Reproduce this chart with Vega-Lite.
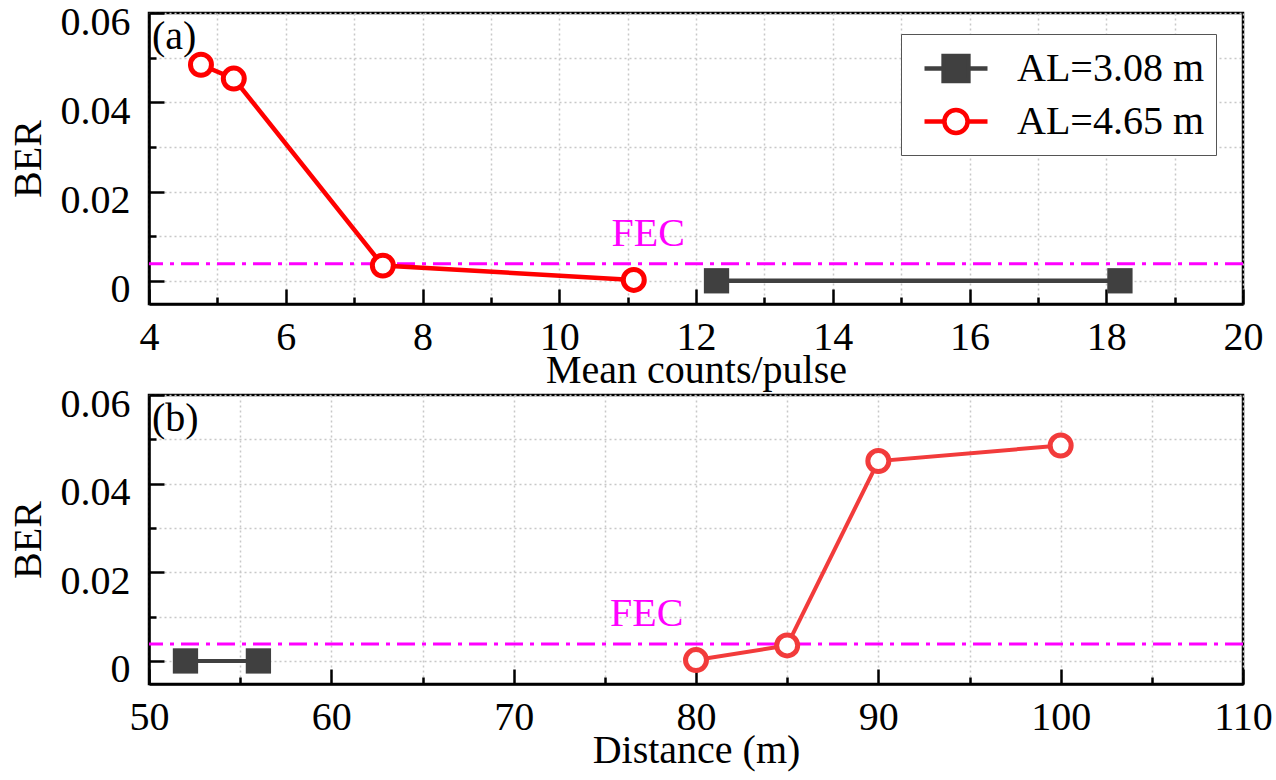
{
  "$schema": "https://vega.github.io/schema/vega-lite/v6.json",
  "background": "white",
  "padding": {"left": 6, "top": 0, "right": 0, "bottom": 0},
  "bounds": "flush",
  "spacing": 91,
  "datasets": {
    "counts": [
      {"counts": 12.3, "ber": 0.0, "series": "AL=3.08 m"},
      {"counts": 18.2, "ber": 0.0, "series": "AL=3.08 m"},
      {"counts": 4.76, "ber": 0.0484, "series": "AL=4.65 m"},
      {"counts": 5.24, "ber": 0.0453, "series": "AL=4.65 m"},
      {"counts": 7.42, "ber": 0.0034, "series": "AL=4.65 m"},
      {"counts": 11.09, "ber": 0.0002, "series": "AL=4.65 m"}
    ],
    "distance": [
      {"distance": 52, "ber": 0.0, "series": "AL=3.08 m"},
      {"distance": 56, "ber": 0.0, "series": "AL=3.08 m"},
      {"distance": 80, "ber": 0.0002, "series": "AL=4.65 m"},
      {"distance": 85, "ber": 0.0035, "series": "AL=4.65 m"},
      {"distance": 90, "ber": 0.0451, "series": "AL=4.65 m"},
      {"distance": 100, "ber": 0.0486, "series": "AL=4.65 m"}
    ],
    "fecA": [{"ber": 0.0038, "x": 11.3, "label": "FEC"}],
    "fecB": [{"ber": 0.0038, "x": 77.3, "label": "FEC"}],
    "tagA": [{"x": 4, "ber": 0.06, "label": "(a)"}],
    "tagB": [{"x": 50, "ber": 0.06, "label": "(b)"}]
  },
  "vconcat": [
    {
      "width": 1094,
      "height": 291,
      "layer": [
        {
          "data": {"name": "fecA"},
          "mark": {"type": "rule", "color": "#ff00ff", "strokeWidth": 3, "strokeDash": [18, 7, 4, 7]},
          "encoding": {"y": {"field": "ber", "type": "quantitative"}}
        },
        {
          "data": {"name": "fecA"},
          "mark": {"type": "text", "color": "#ff00ff", "fontSize": 40, "baseline": "bottom", "dy": -10},
          "encoding": {
            "x": {"field": "x", "type": "quantitative"},
            "y": {"field": "ber", "type": "quantitative"},
            "text": {"field": "label"}
          }
        },
        {
          "data": {"name": "counts"},
          "mark": {"type": "line", "strokeWidth": 4.5},
          "encoding": {
            "x": {
              "field": "counts", "type": "quantitative",
              "scale": {"domain": [4, 20], "nice": false, "zero": false},
              "axis": {
                "title": "Mean counts/pulse",
                "values": [4, 5, 6, 7, 8, 9, 10, 11, 12, 13, 14, 15, 16, 17, 18, 19, 20],
                "labelExpr": "datum.value % 2 == 0 ? format(datum.value, 'd') : ''",
                "tickSize": {"condition": {"test": "datum.value % 2 == 0", "value": -15}, "value": -7}
              }
            },
            "y": {
              "field": "ber", "type": "quantitative",
              "scale": {"domain": [-0.0052, 0.06], "nice": false, "zero": false},
              "axis": {
                "title": "BER",
                "values": [0, 0.01, 0.02, 0.03, 0.04, 0.05, 0.06],
                "labelExpr": "datum.value == 0 ? '0' : (round(datum.value * 1000) % 20 == 0 ? format(datum.value, '.2f') : '')",
                "tickSize": {"condition": {"test": "round(datum.value * 1000) % 20 == 0", "value": -15}, "value": -7}
              }
            },
            "color": {
              "field": "series", "type": "nominal",
              "scale": {"domain": ["AL=3.08 m", "AL=4.65 m"], "range": ["#404040", "#ff0000"]},
              "legend": {
                "title": null,
                "orient": "none",
                "legendX": 752,
                "legendY": 21,
                "padding": 12,
                "strokeColor": "#555555",
                "fillColor": "white",
                "labelFontSize": 40,
                "labelColor": "black",
                "labelLimit": 500,
                "labelOffset": 59,
                "rowPadding": 9,
                "symbolSize": 1600,
                "symbolStrokeWidth": 4.5,
                "encode": {
                  "symbols": {
                    "update": {
                      "shape": {"signal": "datum.value === 'AL=3.08 m' ? 'M-0.55,0H0.405M1.645,0H2.6M0.405,-0.62H1.645V0.62H0.405Z' : 'M-0.55,0H0.445M1.605,0H2.6M1.605,0A0.58,0.58 0 1,1 0.445,0A0.58,0.58 0 1,1 1.605,0Z'"},
                      "fill": {"signal": "datum.value === 'AL=3.08 m' ? '#404040' : 'white'"},
                      "fillOpacity": {"value": 1},
                      "strokeWidth": {"value": 4.5}
                    }
                  }
                }
              }
            }
          }
        },
        {
          "data": {"name": "counts"},
          "transform": [{"filter": "datum.series === 'AL=3.08 m'"}],
          "mark": {"type": "point", "shape": "square", "filled": true, "color": "#404040", "opacity": 1, "size": 640},
          "encoding": {
            "x": {"field": "counts", "type": "quantitative"},
            "y": {"field": "ber", "type": "quantitative"}
          }
        },
        {
          "data": {"name": "counts"},
          "transform": [{"filter": "datum.series === 'AL=4.65 m'"}],
          "mark": {"type": "point", "shape": "circle", "filled": false, "fill": "white", "fillOpacity": 1, "stroke": "#ff0000", "strokeWidth": 5, "opacity": 1, "size": 440},
          "encoding": {
            "x": {"field": "counts", "type": "quantitative"},
            "y": {"field": "ber", "type": "quantitative"}
          }
        },
        {
          "data": {"name": "tagA"},
          "mark": {"type": "text", "fontSize": 40, "align": "left", "baseline": "top", "dx": 3, "dy": 4, "color": "black"},
          "encoding": {
            "x": {"field": "x", "type": "quantitative"},
            "y": {"field": "ber", "type": "quantitative"},
            "text": {"field": "label"}
          }
        }
      ]
    },
    {
      "width": 1094,
      "height": 289,
      "layer": [
        {
          "data": {"name": "fecB"},
          "mark": {"type": "rule", "color": "#ff00ff", "strokeWidth": 3, "strokeDash": [18, 7, 4, 7]},
          "encoding": {"y": {"field": "ber", "type": "quantitative"}}
        },
        {
          "data": {"name": "fecB"},
          "mark": {"type": "text", "color": "#ff00ff", "fontSize": 40, "baseline": "bottom", "dy": -10},
          "encoding": {
            "x": {"field": "x", "type": "quantitative"},
            "y": {"field": "ber", "type": "quantitative"},
            "text": {"field": "label"}
          }
        },
        {
          "data": {"name": "distance"},
          "mark": {"type": "line", "strokeWidth": 4},
          "encoding": {
            "x": {
              "field": "distance", "type": "quantitative",
              "scale": {"domain": [50, 110], "nice": false, "zero": false},
              "axis": {
                "title": "Distance (m)",
                "values": [50, 55, 60, 65, 70, 75, 80, 85, 90, 95, 100, 105, 110],
                "labelExpr": "datum.value % 10 == 0 ? format(datum.value, 'd') : ''",
                "tickSize": {"condition": {"test": "datum.value % 10 == 0", "value": -15}, "value": -7}
              }
            },
            "y": {
              "field": "ber", "type": "quantitative",
              "scale": {"domain": [-0.0052, 0.06], "nice": false, "zero": false},
              "axis": {
                "title": "BER",
                "values": [0, 0.01, 0.02, 0.03, 0.04, 0.05, 0.06],
                "labelExpr": "datum.value == 0 ? '0' : (round(datum.value * 1000) % 20 == 0 ? format(datum.value, '.2f') : '')",
                "tickSize": {"condition": {"test": "round(datum.value * 1000) % 20 == 0", "value": -15}, "value": -7}
              }
            },
            "color": {
              "field": "series", "type": "nominal",
              "scale": {"domain": ["AL=3.08 m", "AL=4.65 m"], "range": ["#404040", "#f23b3b"]},
              "legend": null
            }
          }
        },
        {
          "data": {"name": "distance"},
          "transform": [{"filter": "datum.series === 'AL=3.08 m'"}],
          "mark": {"type": "point", "shape": "square", "filled": true, "color": "#404040", "opacity": 1, "size": 640},
          "encoding": {
            "x": {"field": "distance", "type": "quantitative"},
            "y": {"field": "ber", "type": "quantitative"}
          }
        },
        {
          "data": {"name": "distance"},
          "transform": [{"filter": "datum.series === 'AL=4.65 m'"}],
          "mark": {"type": "point", "shape": "circle", "filled": false, "fill": "white", "fillOpacity": 1, "stroke": "#f23b3b", "strokeWidth": 5, "opacity": 1, "size": 440},
          "encoding": {
            "x": {"field": "distance", "type": "quantitative"},
            "y": {"field": "ber", "type": "quantitative"}
          }
        },
        {
          "data": {"name": "tagB"},
          "mark": {"type": "text", "fontSize": 40, "align": "left", "baseline": "top", "dx": 3, "dy": 4, "color": "black"},
          "encoding": {
            "x": {"field": "x", "type": "quantitative"},
            "y": {"field": "ber", "type": "quantitative"},
            "text": {"field": "label"}
          }
        }
      ]
    }
  ],
  "resolve": {"scale": {"color": "independent"}},
  "config": {
    "font": "Liberation Serif",
    "view": {"stroke": "black", "strokeWidth": 2.5},
    "axis": {
      "labelFont": "Liberation Serif",
      "labelFontSize": 40,
      "labelColor": "black",
      "labelFlush": false,
      "labelOverlap": false,
      "titleFont": "Liberation Serif",
      "titleFontSize": 40,
      "titleFontWeight": "normal",
      "titleColor": "black",
      "domainColor": "black",
      "domainWidth": 2.5,
      "tickColor": "black",
      "tickWidth": 2.5,
      "grid": true,
      "gridColor": "#c8c8c8",
      "gridDash": [2, 3],
      "gridWidth": 1.5
    },
    "axisX": {"labelPadding": 28, "titlePadding": -15},
    "axisY": {"labelPadding": 34, "labelOffset": 9, "titlePadding": 12},
    "legend": {"labelFont": "Liberation Serif"},
    "text": {"font": "Liberation Serif"}
  }
}
